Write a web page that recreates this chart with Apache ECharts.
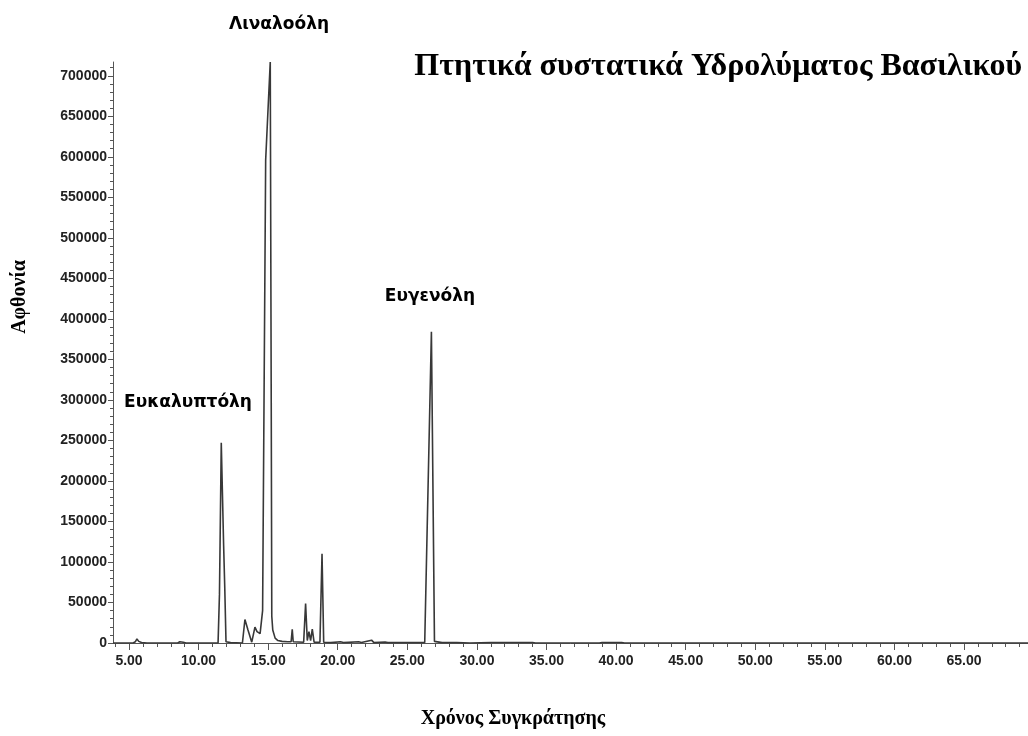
<!DOCTYPE html>
<html>
<head>
<meta charset="utf-8">
<script src="https://cdn.jsdelivr.net/npm/echarts@6/dist/echarts.min.js"></script>
<style>html,body{margin:0;padding:0;background:#fff}#c{width:1028px;height:736px}</style>
</head>
<body>
<div id="c"></div>
<script>
// Retention time (min)
const times = [3.85, 5.3, 5.45, 5.57, 5.7, 5.9, 6.3, 8.5, 8.65, 8.75, 8.9, 9.1,
  11.40, 11.50, 11.63, 11.80, 11.88, 11.97, 12.3,
  13.15, 13.33, 13.55, 13.82, 14.05, 14.20, 14.42, 14.60, 14.82, 15.15, 15.22, 15.26, 15.33, 15.5, 15.7, 16.0, 16.4,
  16.65, 16.73, 16.8, 17.55, 17.69, 17.81, 17.93, 18.05, 18.17, 18.3,
  18.72, 18.87, 18.99, 19.5, 20.2, 20.4, 21.5, 21.7, 22.43, 22.6, 23.4, 23.6,
  26.25, 26.73, 26.95, 27.5, 28.3, 28.4, 28.55, 29.5, 31.0, 34.0, 34.2, 38.8, 39.0, 40.4, 40.6, 69.6];
// Abundance
const abundance = [0, 0, 1500, 5000, 2000, 500, 0, 0, 1500, 3300, 1000, 0,
  0, 60000, 247000, 120000, 69000, 1500, 500,
  0, 29000, 16000, 1000, 19500, 14000, 11500, 40000, 596000, 717000, 300000, 33000, 16000, 6000, 3000, 2000, 1500,
  1500, 17000, 1500, 1000, 48600, 3000, 14000, 3000, 17000, 1000,
  1000, 110000, 1000, 500, 1500, 500, 1500, 500, 3500, 500, 1200, 500,
  500, 384000, 2000, 500, 500, 2500, 500, 0, 600, 600, 0, 0, 700, 700, 0, 0];
const xMajorTicks = [5, 10, 15, 20, 25, 30, 35, 40, 45, 50, 55, 60, 65];
const yMajorTicks = [0, 50000, 100000, 150000, 200000, 250000, 300000, 350000, 400000, 450000, 500000, 550000, 600000, 650000, 700000];
const peakNames = ['Ευκαλυπτόλη', 'Λιναλοόλη', 'Ευγενόλη'];
const chartTitle = 'Πτητικά συστατικά Υδρολύματος Βασιλικού';
const xName = 'Χρόνος Συγκράτησης';
const yName = 'Αφθονία';

const xMinor = []; for (let i = 4; i <= 69; i++) xMinor.push(i);
const yMinor = []; for (let v = 0; v <= 710000; v += 10000) yMinor.push(v);
const data = times.map((t, i) => [t, abundance[i]]);

const axisColor = '#555';
const lblStyle = {color: '#222', fontFamily: 'Liberation Sans, Arial, sans-serif', fontWeight: 'bold', fontSize: 14};
const serif = 'Liberation Serif, Times New Roman, serif';
const comic = 'DejaVu Sans, sans-serif';

const chart = echarts.init(document.getElementById('c'));
chart.setOption({
  animation: false,
  backgroundColor: '#fff',
  grid: {left: 113, right: 0, top: 62, bottom: 93, containLabel: false},
  xAxis: [{
    type: 'value', min: 3.85, max: 69.6,
    axisLine: {lineStyle: {color: axisColor, width: 1}},
    axisTick: {customValues: xMinor, length: 4, lineStyle: {color: axisColor}},
    axisLabel: Object.assign({customValues: xMajorTicks, margin: 11, formatter: v => v.toFixed(2)}, lblStyle),
    splitLine: {show: false}
  }, {
    type: 'value', min: 3.85, max: 69.6, position: 'bottom',
    axisLine: {show: false},
    axisTick: {customValues: xMajorTicks, length: 7, lineStyle: {color: axisColor}},
    axisLabel: {show: false}, splitLine: {show: false}
  }],
  yAxis: [{
    type: 'value', min: 0, max: 717000,
    axisLine: {show: true, lineStyle: {color: axisColor, width: 1}},
    axisTick: {show: true, customValues: yMajorTicks, length: 5, lineStyle: {color: axisColor}},
    axisLabel: Object.assign({customValues: yMajorTicks, margin: 6, formatter: v => String(v)}, lblStyle),
    splitLine: {show: false}
  }, {
    type: 'value', min: 0, max: 717000, position: 'left',
    axisLine: {show: false},
    axisTick: {show: true, customValues: yMinor, length: 3, lineStyle: {color: axisColor}},
    axisLabel: {show: false}, splitLine: {show: false}
  }],
  series: [{
    type: 'line', xAxisIndex: 0, yAxisIndex: 0, data: data,
    showSymbol: false, symbol: 'none',
    lineStyle: {color: '#383838', width: 1.6}
  }],
  graphic: [
    {type: 'text', right: 6, top: 51, style: {text: chartTitle, font: 'bold 32px ' + serif, fill: '#000'}},
    {type: 'text', x: 279, y: 25, style: {text: peakNames[1], font: 'bold 17px ' + comic, fill: '#000', textAlign: 'center', textVerticalAlign: 'middle'}},
    {type: 'text', x: 188, y: 403, style: {text: peakNames[0], font: 'bold 17px ' + comic, fill: '#000', textAlign: 'center', textVerticalAlign: 'middle'}},
    {type: 'text', x: 430, y: 297, style: {text: peakNames[2], font: 'bold 17px ' + comic, fill: '#000', textAlign: 'center', textVerticalAlign: 'middle'}},
    {type: 'text', x: 20, y: 297, rotation: Math.PI / 2, style: {text: yName, font: 'bold 20px ' + serif, fill: '#000', textAlign: 'center', textVerticalAlign: 'middle'}},
    {type: 'text', x: 513, y: 719, style: {text: xName, font: 'bold 20px ' + serif, fill: '#000', textAlign: 'center', textVerticalAlign: 'middle'}}
  ]
});
</script>
</body>
</html>
